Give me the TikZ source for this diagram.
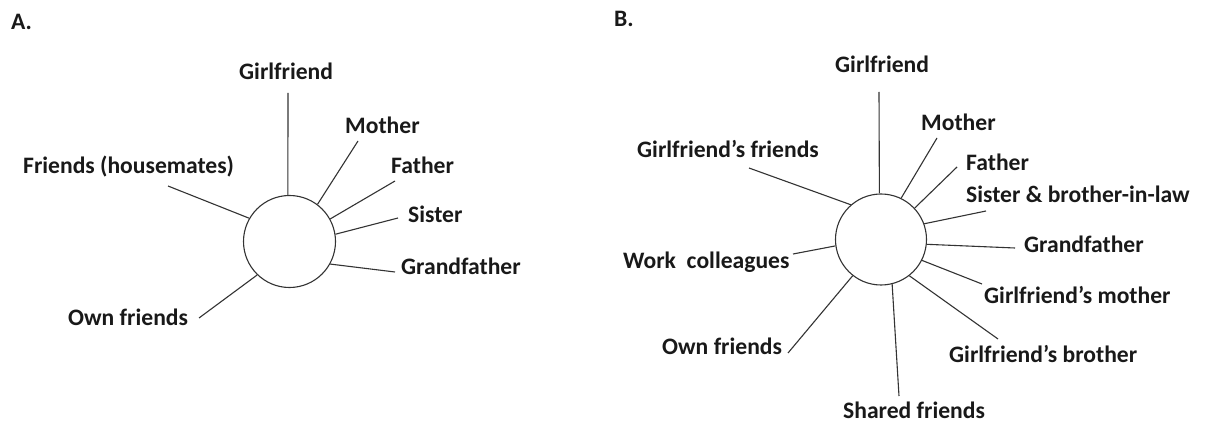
\documentclass[tikz,border=0pt]{standalone}
\usepackage{fontspec}
\setmainfont{Carlito}
\newcommand{\sq}{\symbol{39}}
\begin{document}
\begin{tikzpicture}[x=1pt,y=-1pt,
  lbl/.style={anchor=base west, inner sep=0pt, font=\fontsize{23.6}{26}\selectfont\bfseries, text=black!90},
  hub/.style={circle, draw=black!80, line width=1.1pt, inner sep=0pt, minimum size=#1},
  spoke/.style={draw=black!80, line width=1.1pt}]
\useasboundingbox[fill=white] (0,0) rectangle (1205,422);

% ---------- Panel A ----------
\node[lbl] (tagA) at (11,30) {A.};
\node[hub=92pt] (hubA) at (289.5,241.5) {};

\node[lbl] (aGirl)  at (239,80)  {Girlfriend};
\node[lbl] (aMoth)  at (345,134) {Mother};
\node[lbl] (aFath)  at (391,174) {Father};
\node[lbl] (aSist)  at (408,223) {Sister};
\node[lbl] (aGran)  at (401,275) {Grandfather};
\node[lbl] (aHouse) at (23,174)  {Friends (housemates)};
\node[lbl] (aOwn)   at (68,325)  {Own friends};

\coordinate (aGirlE)  at (288,93);
\coordinate (aMothE)  at (358,141);
\coordinate (aFathE)  at (395,181);
\coordinate (aSistE)  at (398,218);
\coordinate (aGranE)  at (395,272);
\coordinate (aHouseE) at (168,186);
\coordinate (aOwnE)   at (199,318);

\draw[spoke] (aGirlE)  -- (hubA.92);
\draw[spoke] (aMothE)  -- (hubA.53);
\draw[spoke] (aFathE)  -- (hubA.29);
\draw[spoke] (aSistE)  -- (hubA.9);
\draw[spoke] (aGranE)  -- (hubA.-29);
\draw[spoke] (aHouseE) -- (hubA.150);
\draw[spoke] (aOwnE)   -- (hubA.226);

% ---------- Panel B ----------
\node[lbl] (tagB) at (614,27) {B.};
\node[hub=91pt] (hubB) at (881,239.5) {};

\node[lbl] (bGirl)  at (835,73)  {Girlfriend};
\node[lbl] (bMoth)  at (921,131) {Mother};
\node[lbl] (bFath)  at (966,171) {Father};
\node[lbl] (bSist)  at (966,203) {Sister \& brother-in-law};
\node[lbl] (bGran)  at (1024,253) {Grandfather};
\node[lbl] (bGfMo)  at (984,303) {Girlfriend\sq s mother};
\node[lbl] (bGfBr)  at (949,362) {Girlfriend\sq s brother};
\node[lbl] (bShar)  at (843,418) {Shared friends};
\node[lbl] (bOwn)   at (662,354) {Own friends};
\node[lbl] (bWork)  at (623,269) {Work\ \ colleagues};
\node[lbl] (bGfFr)  at (637,158) {Girlfriend\sq s friends};

\coordinate (bGirlE) at (879,92);
\coordinate (bMothE) at (937,138);
\coordinate (bFathE) at (957,167);
\coordinate (bSistE) at (986,211);
\coordinate (bGranE) at (1015,248);
\coordinate (bGfMoE) at (982,284);
\coordinate (bGfBrE) at (998,339);
\coordinate (bSharE) at (899,396);
\coordinate (bOwnE)  at (788,353);
\coordinate (bWorkE) at (793,254);
\coordinate (bGfFrE) at (749,168);

\draw[spoke] (bGirlE) -- (hubB.92.6);
\draw[spoke] (bMothE) -- (hubB.64.8);
\draw[spoke] (bFathE) -- (hubB.43.7);
\draw[spoke] (bSistE) -- (hubB.20.6);
\draw[spoke] (bGranE) -- (hubB.-6.8);
\draw[spoke] (bGfMoE) -- (hubB.-27.1);
\draw[spoke] (bGfBrE) -- (hubB.-52.3);
\draw[spoke] (bSharE) -- (hubB.-76.4);
\draw[spoke] (bOwnE)  -- (hubB.232.3);
\draw[spoke] (bWorkE) -- (hubB.188);
\draw[spoke] (bGfFrE) -- (hubB.131.1);
\end{tikzpicture}
\end{document}
